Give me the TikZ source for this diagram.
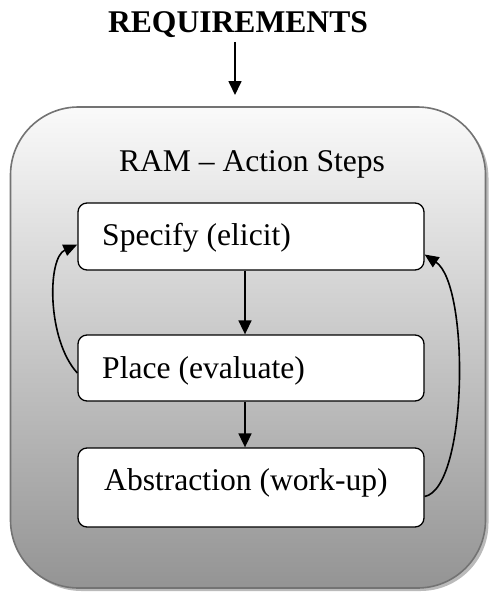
\documentclass[tikz,border=0pt]{standalone}
\usepackage{fontspec}
\setmainfont{Liberation Serif}
\usetikzlibrary{arrows.meta,shadows}
\begin{document}
\begin{tikzpicture}[x=1pt,y=-1pt,
  outerbox/.style={draw=black!55,line width=1.6pt,rounded corners=68pt,
    top color=black!2,bottom color=black!42,
    drop shadow={shadow xshift=3pt,shadow yshift=-3pt,fill=black!45,opacity=.6},
    minimum width=475pt,minimum height=481pt,inner sep=0pt},
  stepbox/.style={draw=black,line width=1.3pt,rounded corners=9pt,fill=white,
    minimum width=346pt,inner sep=0pt},
  lbl/.style={font=\fontsize{31.6}{36}\selectfont,inner sep=0pt,anchor=base west},
  arr/.style={line width=1.7pt,-{Triangle[length=14pt,width=13pt]}},
  carr/.style={line width=1.6pt,-{Triangle[length=14pt,width=12pt]}}]
\useasboundingbox (0,0) rectangle (491,594);
\node[outerbox] (outer) at (248,347.5) {};
\node[font=\fontsize{31.6}{36}\selectfont\bfseries,inner sep=0pt,anchor=base] (req) at (238,33) {REQUIREMENTS};
\coordinate (reqb) at (235,42);
\coordinate (reqe) at (235,95);
\draw[arr] (reqb) -- (reqe);
\node[font=\fontsize{31.6}{36}\selectfont,inner sep=0pt,anchor=base] (title) at (252,171) {RAM -- Action Steps};
\node[stepbox,minimum height=67pt] (spec) at (251,236.5) {};
\node[stepbox,minimum height=66pt] (place) at (251,368) {};
\node[stepbox,minimum height=79pt] (abs) at (251,487.5) {};
\node[lbl] (spect) at (102,245) {Specify (elicit)};
\node[lbl] (placet) at (102,378) {Place (evaluate)};
\node[lbl] (abst) at (104,490) {Abstraction (work-up)};
\coordinate (x) at (245,0);
\draw[arr] (spec.south -| x) -- (place.north -| x);
\draw[arr] (place.south -| x) -- (abs.north -| x);
\coordinate (lstart) at ([yshift=-5pt]place.west);
\coordinate (lend) at ([yshift=-8pt]spec.west);
\draw[carr] (lstart) .. controls (47,340) and (47,258) .. (lend);
\coordinate (rstart) at ([yshift=-9pt]abs.east);
\coordinate (rend) at ([yshift=-18pt]spec.east);
\draw[carr] (rstart) .. controls (468,488) and (470,285) .. (rend);
\end{tikzpicture}
\end{document}
